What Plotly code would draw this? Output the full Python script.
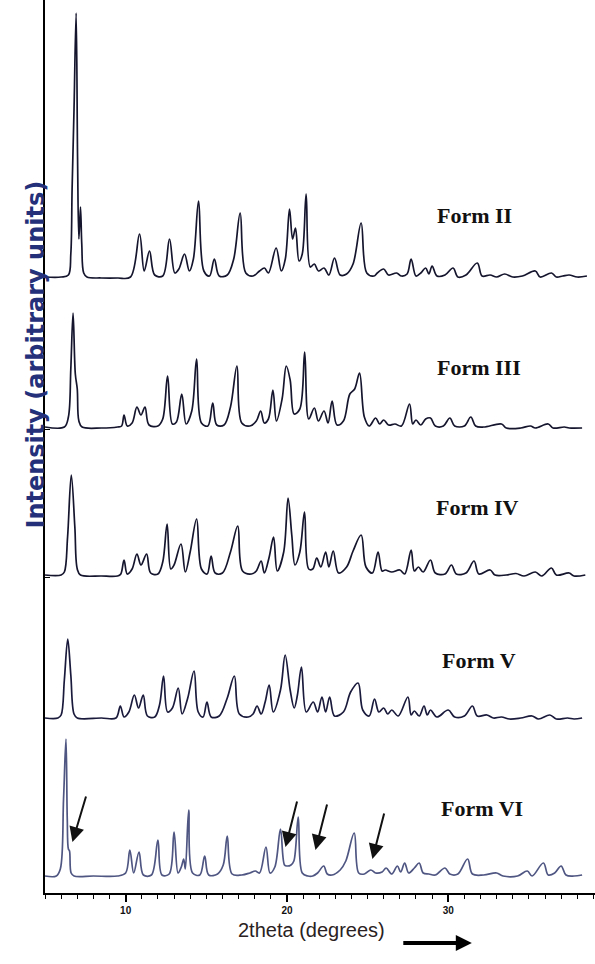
import plotly.graph_objects as go

# ---- data: vertices (2theta, intensity above own baseline) ----
form2_x = [5.0, 6.0, 6.45, 6.6, 6.68, 6.8, 6.93, 7.02, 7.1, 7.2, 7.28, 7.4, 7.6, 8.5, 9.5, 10.3,
           10.86, 11.15, 11.48, 11.8, 12.3, 12.72, 13.05, 13.3, 13.65, 13.95, 14.2, 14.52, 14.85, 15.2,
           15.5, 15.8, 16.3, 16.7, 17.1, 17.45, 17.9, 18.3, 18.6, 18.85, 19.33, 19.65, 19.9, 20.16,
           20.35, 20.53, 20.75, 20.95, 21.19, 21.45, 21.7, 21.95, 22.3, 22.6, 22.95, 23.3, 23.7, 24.1,
           24.6, 24.95, 25.4, 25.6, 26.0, 26.3, 26.8, 27.1, 27.45, 27.7, 28.0, 28.3, 28.6, 28.8, 29.0,
           29.3, 29.8, 30.3, 30.6, 31.1, 31.8, 32.1, 32.6, 33.0, 33.5, 34.0, 34.6, 35.4, 35.7, 36.4,
           36.7, 37.1, 37.5, 38.0, 38.6]
form2_y = [2, 2, 4, 25, 90, 170, 266, 120, 40, 72, 35, 6, 2, 1, 1, 2,
           45, 8, 28, 4, 3, 40, 6, 10, 25, 8, 20, 78, 8, 3,
           20, 3, 4, 20, 66, 6, 3, 8, 11, 6, 31, 8, 20, 70,
           40, 51, 18, 25, 85, 12, 15, 8, 11, 4, 21, 4, 5, 15,
           56, 6, 3, 6, 10, 4, 6, 3, 5, 20, 3, 6, 11, 5, 13,
           3, 4, 11, 2, 4, 16, 3, 4, 2, 5, 2, 3, 8, 2, 6,
           2, 3, 4, 2, 3]

form3_x = [5.0, 6.2, 6.45, 6.6, 6.74, 6.88, 7.0, 7.1, 7.3, 8.5, 9.5, 9.75, 9.9, 10.1, 10.4, 10.7,
           10.95, 11.2, 11.45, 12.0, 12.3, 12.6, 12.9, 13.15, 13.48, 13.75, 14.1, 14.4, 14.7, 15.1,
           15.4, 15.65, 16.1, 16.5, 16.9, 17.2, 17.7, 18.1, 18.37, 18.6, 18.85, 19.13, 19.35, 19.7,
           19.96, 20.2, 20.45, 20.8, 21.1, 21.35, 21.7, 21.95, 22.3, 22.55, 22.8, 23.1, 23.5, 23.9,
           24.2, 24.5, 24.8, 25.1, 25.5, 25.75, 26.0, 26.3, 26.7, 27.1, 27.6, 27.8, 28.0, 28.3, 28.6,
           28.9, 29.2, 29.7, 30.1, 30.4, 31.0, 31.4, 31.7, 32.2, 33.3, 33.6, 34.5, 35.1, 35.4, 36.2,
           36.5, 37.2, 37.5, 38.3]
form3_y = [2, 2, 12, 60, 116, 55, 40, 8, 2, 1, 2, 3, 14, 3, 6, 22,
           14, 22, 4, 3, 10, 53, 5, 7, 35, 5, 18, 70, 6, 3,
           26, 4, 4, 22, 63, 6, 3, 8, 18, 6, 10, 39, 8, 30,
           63, 49, 15, 20, 77, 10, 21, 8, 18, 6, 28, 4, 8, 35,
           40, 56, 12, 3, 11, 5, 9, 4, 5, 3, 25, 5, 9, 4, 10,
           11, 3, 3, 11, 3, 3, 12, 3, 2, 5, 1, 1, 3, 1, 5,
           1, 2, 1, 1]

form4_x = [5.0, 6.0, 6.2, 6.4, 6.63, 6.85, 7.0, 7.2, 8.5, 9.5, 9.7, 9.9, 10.1, 10.4, 10.7, 10.95,
           11.3, 11.55, 12.0, 12.3, 12.57, 12.8, 13.0, 13.43, 13.7, 14.0, 14.4, 14.7, 15.05, 15.3,
           15.55, 16.0, 16.5, 16.95, 17.25, 17.8, 18.1, 18.4, 18.6, 18.9, 19.17, 19.4, 19.8, 20.07,
           20.3, 20.5, 20.8, 21.09, 21.35, 21.6, 21.85, 22.1, 22.4, 22.6, 22.87, 23.2, 23.7, 24.1,
           24.6, 24.9, 25.3, 25.65, 25.9, 26.1, 26.5, 27.0, 27.3, 27.7, 27.9, 28.15, 28.45, 28.9,
           29.2, 29.8, 30.2, 30.5, 31.1, 31.6, 31.9, 32.6, 32.9, 33.6, 34.2, 34.7, 35.4, 35.8, 36.4,
           36.7, 37.5, 37.8, 38.5]
form4_y = [2, 2, 5, 40, 102, 50, 8, 2, 1, 1, 3, 17, 3, 8, 23, 12,
           23, 4, 3, 15, 53, 8, 12, 33, 5, 25, 58, 8, 3, 21,
           4, 4, 25, 51, 6, 3, 6, 16, 4, 20, 40, 6, 25, 79,
           42, 12, 25, 65, 8, 8, 19, 10, 25, 10, 26, 4, 10, 26,
           42, 10, 4, 25, 6, 7, 5, 7, 3, 27, 6, 10, 5, 17,
           4, 3, 12, 3, 4, 16, 3, 7, 2, 2, 3.5, 1, 5, 1, 9,
           2, 4, 1, 2]

form5_x = [5.0, 5.8, 6.0, 6.2, 6.41, 6.6, 6.8, 7.0, 8.5, 9.4, 9.67, 9.9, 10.2, 10.54, 10.8, 11.09,
           11.35, 11.8, 12.1, 12.35, 12.6, 12.9, 13.26, 13.5, 13.85, 14.24, 14.5, 14.8, 15.04, 15.3,
           15.8, 16.3, 16.74, 17.05, 17.6, 17.9, 18.15, 18.4, 18.65, 18.9, 19.15, 19.6, 19.89, 20.2,
           20.45, 20.65, 20.9, 21.2, 21.63, 21.9, 22.17, 22.4, 22.65, 22.95, 23.5, 23.95, 24.41, 24.7,
           25.1, 25.43, 25.7, 26.0, 26.25, 26.5, 26.9, 27.5, 27.7, 27.9, 28.2, 28.5, 28.7, 28.9, 29.3,
           30.0, 30.4, 31.0, 31.5, 31.8, 32.4, 32.8, 33.3, 33.8, 34.5, 35.2, 35.6, 36.3, 36.7, 37.4,
           37.8, 38.3]
form5_y = [2, 2, 5, 40, 81, 45, 6, 2, 2, 2, 14, 3, 8, 25, 12, 25,
           4, 3, 15, 44, 8, 12, 32, 6, 22, 49, 8, 3, 18, 3,
           4, 22, 44, 6, 3, 6, 14, 6, 18, 35, 8, 30, 65, 30,
           12, 25, 53, 8, 18, 8, 23, 8, 23, 4, 8, 28, 37, 10,
           4, 21, 8, 12, 6, 10, 4, 23, 5, 9, 4, 14, 5, 10, 3,
           10, 3, 4, 14, 4, 5, 2, 3, 1, 2, 4, 1, 5, 1, 2,
           1, 2]

form6_x = [5.0, 5.7, 5.95, 6.15, 6.3, 6.38, 6.45, 6.52, 6.62, 6.8, 8.0, 9.5, 10.0, 10.26, 10.5,
           10.83, 11.1, 11.6, 12.0, 12.25, 12.7, 13.0, 13.25, 13.45, 13.6, 13.7, 13.91, 14.15, 14.6,
           14.9, 15.15, 15.7, 16.05, 16.3, 16.6, 17.2, 17.7, 18.04, 18.3, 18.7, 18.95, 19.25, 19.6,
           19.85, 20.0, 20.25, 20.43, 20.7, 20.95, 21.3, 21.6, 21.9, 22.28, 22.5, 22.8, 23.3, 23.65,
           24.17, 24.45, 24.8, 25.2, 25.5, 25.9, 26.15, 26.5, 26.85, 27.05, 27.3, 27.55, 27.9, 28.2,
           28.45, 28.8, 29.2, 29.8, 30.1, 30.6, 31.2, 31.5, 32.2, 33.0, 33.4, 34.3, 34.9, 35.2, 35.9,
           36.2, 36.6, 37.0, 37.3, 37.8, 38.3]
form6_y = [3, 3, 10, 80, 140, 60, 30, 28, 6, 3, 3, 3, 6, 29, 6,
           27, 4, 4, 39, 4, 5, 47, 6, 12, 20, 10, 69, 6, 4,
           23, 4, 5, 14, 43, 5, 4, 6, 8, 6, 32, 6, 12, 50,
           14, 13, 14, 18, 62, 6, 3, 3, 6, 13, 5, 4, 9, 18,
           46, 6, 5, 9, 6, 7, 11, 5, 13, 7, 16, 6, 11, 16,
           6, 5, 4, 11, 5, 5, 20, 5, 4, 6, 3, 3, 8, 3, 16,
           4, 6, 13, 4, 3, 4]

form_names = ["Form II", "Form III", "Form IV", "Form V", "Form VI"]
form_offsets = [614, 464, 316, 173, 14]          # baseline of each stacked pattern
label_pos_x = [31.6, 31.9, 31.8, 31.9, 32.1]       # 2theta of label centre
label_pos_y = [678, 526, 386, 233, 85]             # intensity of label centre
line_colors = ["#15152e", "#15152e", "#15152e", "#1a1a3c", "#4f5682"]

# arrows marking extra Form VI reflections (relative to Form VI baseline)
arrow_head_x = [6.70, 19.91, 21.77, 25.30]
arrow_head_y = [37, 32, 29, 20]
arrow_tail_x = [7.57, 20.65, 22.51, 26.05]
arrow_tail_y = [84, 79, 76, 67]

x_ticks = [10, 20, 30]
x_tick_text = ["10", "20", "30"]

series_x = [form2_x, form3_x, form4_x, form5_x, form6_x]
series_y = [form2_y, form3_y, form4_y, form5_y, form6_y]

fig = go.Figure()
for xs, ys, off, col, nm in zip(series_x, series_y, form_offsets, line_colors, form_names):
    fig.add_trace(go.Scatter(
        x=xs, y=[v + off for v in ys], mode="lines", name=nm,
        line=dict(color=col, width=1.7, shape="spline", smoothing=1.0),
        showlegend=False, hoverinfo="skip"))

annotations = []
for nm, lx, ly in zip(form_names, label_pos_x, label_pos_y):
    annotations.append(dict(x=lx, y=ly, xref="x", yref="y", text=nm, showarrow=False,
                            font=dict(family="Liberation Serif, Times New Roman, serif",
                                      size=22, color="#111111", weight="bold")))
for hx, hy, tx, ty in zip(arrow_head_x, arrow_head_y, arrow_tail_x, arrow_tail_y):
    annotations.append(dict(x=hx, y=hy + form_offsets[4], ax=tx, ay=ty + form_offsets[4],
                            xref="x", yref="y", axref="x", ayref="y", text="",
                            showarrow=True, arrowhead=2, arrowsize=1.5, arrowwidth=2,
                            arrowcolor="#111111"))
# axis titles
annotations.append(dict(xref="paper", yref="paper", x=0, y=0.603, xshift=-25,
                        text="Intensity (arbitrary units)", textangle=-90, showarrow=False,
                        font=dict(family="DejaVu Sans, Liberation Sans, sans-serif", size=24,
                                  color="#24307a", weight="bold")))
annotations.append(dict(xref="paper", yref="paper", x=0.485, y=-0.056,
                        text="2theta (degrees)", showarrow=False,
                        font=dict(family="Liberation Sans, Arial, sans-serif",
                                  size=20, color="#2a2222")))
annotations.append(dict(xref="paper", yref="paper", x=0.776, y=-0.056, ax=-70, ay=0,
                        text="", showarrow=True, arrowhead=2, arrowsize=0.8, arrowwidth=4,
                        arrowcolor="#000000"))

fig.update_layout(
    width=595, height=964,
    margin=dict(l=45, r=0, t=0, b=71),
    paper_bgcolor="white", plot_bgcolor="white",
    annotations=annotations,
    xaxis=dict(range=[5, 39.1], showgrid=False, zeroline=False,
               showline=True, linecolor="#000000", linewidth=2,
               tickvals=x_ticks, ticktext=x_tick_text, ticks="outside", ticklen=7,
               tickwidth=1.5, tickcolor="#000000",
               tickfont=dict(family="Liberation Sans, Arial, sans-serif",
                             size=10, color="#111111", weight="bold"),
               minor=dict(dtick=1, tick0=0, ticks="outside", ticklen=4, tickwidth=1.2,
                          tickcolor="#000000")),
    yaxis=dict(range=[0, 893], showgrid=False, zeroline=False,
               showline=True, linecolor="#000000", linewidth=1.5,
               tickvals=[form_offsets[1], form_offsets[2]], ticks="inside", ticklen=5,
               tickcolor="#000000", showticklabels=False),
)

fig.write_html("out.html")
